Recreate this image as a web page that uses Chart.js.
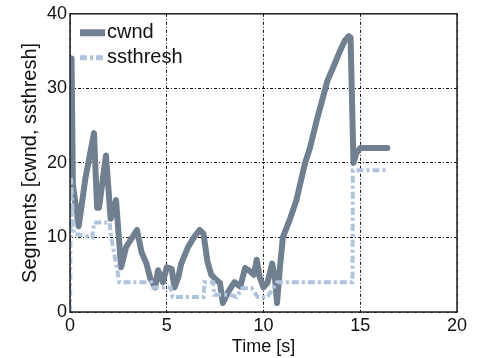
<!DOCTYPE html>
<html>
<head>
<meta charset="utf-8">
<script src="https://cdn.jsdelivr.net/npm/chart.js@4/dist/chart.umd.min.js"></script>
<style>
html, body { margin: 0; padding: 0; background: #fff; }
</style>
</head>
<body>
<canvas id="cwnd_chart" width="484" height="358"></canvas>
<script>
"use strict";

// values (time in s, segments)
var cwndTime = [0, 0.08, 0.15, 0.45, 0.8, 1.24, 1.4, 1.5, 1.86, 2.1, 2.38, 2.64, 2.9, 3.46, 3.7, 3.95,
    4.15, 4.4, 4.55, 4.8, 5.0, 5.25, 5.4, 5.6, 5.75, 6.1, 6.4, 6.7, 6.9, 7.1, 7.3, 7.6, 7.75, 7.9,
    8.2, 8.5, 8.8, 9.05, 9.3, 9.5, 9.65, 9.8, 10.0, 10.2, 10.45, 10.6, 10.7, 10.85, 11.0, 11.4,
    11.7, 12.15, 12.4, 12.75, 13.2, 13.3, 13.6, 13.95, 14.2, 14.4, 14.5, 14.65, 14.8, 15.0, 16.4];
var cwndSegs = [18, 34, 17, 11.5, 18, 24, 14, 14, 21, 12.5, 15, 6, 8.7, 11, 8, 6.5,
    4.5, 3.3, 5.6, 4, 6, 5.8, 3.3, 4.7, 6.5, 8.7, 10, 11, 10.5, 6.8, 5, 4.2, 3.9, 1.2,
    2.8, 4, 3.4, 5.9, 5.5, 5, 7, 4.7, 3.3, 3.9, 6.5, 4.3, 1.2, 6, 10, 12.7,
    15, 20, 22, 25.7, 30, 31, 32.8, 35, 36.4, 37, 36.8, 20, 21.3, 22, 22];

var ssthTime = [0, 0.05, 0.2, 1.15, 1.25, 2.05, 2.1, 2.55, 4.2, 4.3, 5.2, 5.3, 6.9, 6.95, 7.4, 7.45,
    8.3, 8.6, 8.9, 9.4, 9.7, 10.2, 10.7, 14.6, 14.62, 16.4];
var ssthSegs = [0, 18, 10.5, 10, 12, 12, 10.5, 4, 4, 3.3, 3.3, 2, 2, 4, 4, 2.3,
    2.3, 2, 3.2, 3.2, 2, 2, 4, 4, 19, 19];

var xTicks = [0, 5, 10, 15, 20];
var yTicks = [0, 10, 20, 30, 40];

var FONT = '"Liberation Sans", Arial, Helvetica, sans-serif';

function toPoints(xs, ys) {
    return xs.map(function (x, i) { return { x: x, y: ys[i] }; });
}

// legend drawn inside the plot, top left
var insideLegend = {
    id: 'insideLegend',
    afterDatasetsDraw: function (chart) {
        var ctx = chart.ctx;
        var area = chart.chartArea;
        ctx.save();
        ctx.font = '20px ' + FONT;
        ctx.textBaseline = 'middle';
        chart.data.datasets.forEach(function (ds, i) {
            var x = area.left + 10;
            var y = area.top + 19 + i * 25;
            ctx.strokeStyle = ds.borderColor;
            ctx.lineWidth = ds.borderWidth + 1;
            ctx.lineCap = 'butt';
            ctx.setLineDash(ds.borderDash || []);
            ctx.beginPath();
            ctx.moveTo(x, y);
            ctx.lineTo(x + 25, y);
            ctx.stroke();
            ctx.setLineDash([]);
            ctx.fillStyle = '#111';
            ctx.fillText(ds.label, x + 27, y);
        });
        ctx.restore();
    }
};

// solid box round the plot
var plotFrame = {
    id: 'plotFrame',
    afterDatasetsDraw: function (chart) {
        var ctx = chart.ctx;
        var a = chart.chartArea;
        ctx.save();
        ctx.strokeStyle = '#222';
        ctx.lineWidth = 1.5;
        ctx.strokeRect(a.left, a.top, a.right - a.left, a.bottom - a.top);
        ctx.restore();
    }
};

var ctx = document.getElementById('cwnd_chart');
var chart = new Chart(ctx, {
    type: 'scatter',
    data: {
        datasets: [
            {
                label: 'cwnd',
                data: toPoints(cwndTime, cwndSegs),
                showLine: true,
                borderColor: 'rgb(112, 128, 144)',
                borderWidth: 6,
                borderCapStyle: 'round',
                borderJoinStyle: 'round',
                pointRadius: 0,
                tension: 0,
                order: 1
            },
            {
                label: 'ssthresh',
                data: toPoints(ssthTime, ssthSegs),
                showLine: true,
                borderColor: 'rgb(176, 196, 222)',
                borderWidth: 4,
                borderDash: [7, 3, 3, 3],
                pointRadius: 0,
                tension: 0,
                order: 0
            }
        ]
    },
    options: {
        responsive: false,
        animation: false,
        layout: { padding: { top: 13, right: 27, left: 0, bottom: 0 } },
        plugins: {
            legend: { display: false },
            tooltip: { enabled: false }
        },
        scales: {
            x: {
                type: 'linear',
                min: 0,
                max: 20,
                afterBuildTicks: function (s) { s.ticks = xTicks.map(function (v) { return { value: v }; }); },
                afterFit: function (s) { s.height = 46; },
                ticks: { color: '#111', font: { family: FONT, size: 18 }, padding: 3, maxRotation: 0 },
                grid: { color: '#111', lineWidth: 1, drawTicks: false },
                border: { display: false, dash: [3, 2, 1, 2] },
                title: { display: true, text: 'Time [s]', color: '#111', font: { family: FONT, size: 18 }, padding: { top: 0, bottom: 0 } }
            },
            y: {
                type: 'linear',
                min: 0,
                max: 40,
                afterBuildTicks: function (s) { s.ticks = yTicks.map(function (v) { return { value: v }; }); },
                afterFit: function (s) { s.width = 70; },
                ticks: { color: '#111', font: { family: FONT, size: 18 }, padding: 3 },
                grid: { color: '#111', lineWidth: 1, drawTicks: false },
                border: { display: false, dash: [3, 2, 1, 2] },
                title: { display: true, text: 'Segments [cwnd, ssthresh]', color: '#111', font: { family: FONT, size: 20 }, padding: { top: 18, bottom: 0 } }
            }
        }
    },
    plugins: [plotFrame, insideLegend]
});
</script>
</body>
</html>
